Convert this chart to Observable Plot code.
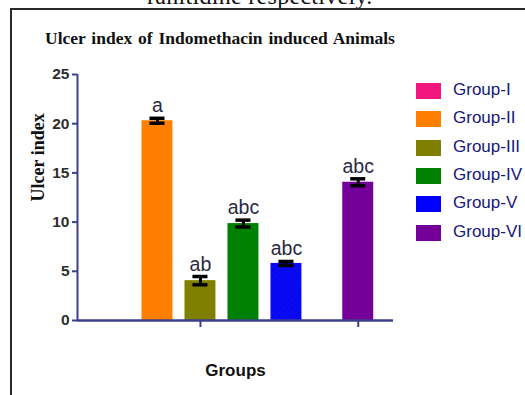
<!DOCTYPE html>
<html>
<head>
<meta charset="utf-8">
<script src="https://cdn.jsdelivr.net/npm/d3@7"></script>
<script src="https://cdn.jsdelivr.net/npm/@observablehq/plot@0.6"></script>
<style>
  html, body { margin: 0; padding: 0; background: #fff; }
  #page { position: relative; width: 525px; height: 395px; overflow: hidden; background: #fff; }
  #prev { position: absolute; left: 147px; top: -16px; font: 24px "Liberation Serif", "Times New Roman", serif; line-height: 24px; color: #111; white-space: nowrap; letter-spacing: 0.3px; }
  #box { position: absolute; left: 10px; top: 8px; right: -4px; bottom: -4px; border-left: 2px solid #2a2a2a; border-top: 2px solid #2a2a2a; }
  #title { position: absolute; left: 45px; top: 28px; font: bold 17.5px "Liberation Serif", "Times New Roman", serif; word-spacing: 1.5px; color: #111; white-space: nowrap; }
  #chart { position: absolute; left: 0; top: 0; }
  #legend { position: absolute; left: 416px; top: 0; }
  .row { position: absolute; left: 0; width: 110px; height: 20px; }
  .sw { position: absolute; left: 0; top: 2px; width: 25px; height: 16px; }
  .lb { position: absolute; left: 37px; top: -1px; font: 17px "Liberation Sans", Arial, sans-serif; color: #16167a; white-space: nowrap; }
</style>
</head>
<body>
<div id="page">
  <div id="prev">ranitidine respectively.</div>
  <div id="box"></div>
  <div id="title">Ulcer  index of Indomethacin induced Animals</div>
  <div id="chart"></div>
  <div id="legend"></div>
</div>
<script>
// Ulcer index per treatment group (mean ± SEM) with significance letters
const groups   = ["Group-I", "Group-II", "Group-III", "Group-IV", "Group-V", "Group-VI"];
const clusters = ["A", "A", "A", "A", "A", "B"];
const ulcerIdx = [0, 20.3, 4.05, 9.85, 5.8, 14.05];
const sem      = [0, 0.25, 0.42, 0.35, 0.2, 0.35];
const letters  = ["", "a", "ab", "abc", "abc", "abc"];
const yTicks   = [0, 5, 10, 15, 20, 25];
const colors   = ["#f2177f", "#ff8000", "#808000", "#008000", "#0000ff", "#74009a"];

// bars sit side by side within a cluster; clusters are separated by an extra gap
const clusterGap = 0.67;
const clusterNames = [...new Set(clusters)];
const rows = groups.map((g, i) => ({
  group: g,
  pos: i + clusterNames.indexOf(clusters[i]) * clusterGap,
  value: ulcerIdx[i],
  err: sem[i],
  letter: letters[i]
}));
const clusterCenters = clusterNames.map(c => d3.mean(rows.filter((r, i) => clusters[i] === c), r => r.pos));
const bars = rows.filter(r => r.value > 0);

const halfBar = 0.36, halfCap = 0.175;
const axisColor = "#3d3f8c";

const chart = Plot.plot({
  width: 525,
  height: 395,
  marginLeft: 77,
  marginRight: 132,
  marginTop: 74,
  marginBottom: 75,
  x: { type: "linear", domain: [-0.86, 6.49] },
  y: { domain: [0, 25] },
  color: { domain: groups, range: colors },
  style: { fontFamily: "Liberation Sans, Arial, sans-serif", background: "transparent" },
  marks: [
    Plot.rectY(bars, { x1: d => d.pos - halfBar, x2: d => d.pos + halfBar, y1: 0, y2: "value", fill: "group" }),
    // error bars
    Plot.ruleX(bars, { x: "pos", y1: d => d.value - d.err, y2: d => d.value + d.err, stroke: "#000", strokeWidth: 3 }),
    Plot.ruleY(bars, { y: d => d.value + d.err, x1: d => d.pos - halfCap, x2: d => d.pos + halfCap, stroke: "#000", strokeWidth: 3.5 }),
    Plot.ruleY(bars, { y: d => d.value - d.err, x1: d => d.pos - halfCap, x2: d => d.pos + halfCap, stroke: "#000", strokeWidth: 3.5 }),
    // significance letters
    Plot.text(bars, { x: "pos", y: d => d.value + d.err, text: "letter", lineAnchor: "bottom", dy: -6, fontSize: 19.5, fill: "#2b2b40" }),
    // axes
    Plot.axisY({ ticks: yTicks, tickSize: 5, tickPadding: 3, stroke: axisColor, strokeWidth: 2, fontSize: 15.5, fontWeight: "bold", fill: "#2e2e2e", label: null }),
    Plot.axisX({ ticks: clusterCenters, tickSize: 7, tickFormat: () => "", stroke: axisColor, strokeWidth: 2, label: null }),
    Plot.ruleY([0], { stroke: axisColor, strokeWidth: 2.5 }),
    Plot.ruleX([-0.86], { y1: 0, y2: 25, stroke: axisColor, strokeWidth: 2 }),
    // axis titles
    Plot.text(["Ulcer index"], { frameAnchor: "left", dx: -39, dy: 4, rotate: -90, fontSize: 18, fontWeight: "bold", fontFamily: "Liberation Serif, Times New Roman, serif", fill: "#111", letterSpacing: 0.5 }),
    Plot.text(["Groups"], { frameAnchor: "bottom", dy: 55, fontSize: 17, fontWeight: "bold", fill: "#111" })
  ]
});
document.getElementById("chart").appendChild(chart);

// textured fill for the Group-V bar
const svg = d3.select(chart);
const defs = svg.insert("defs", ":first-child");
const pat = defs.append("pattern")
  .attr("id", "hatchBlue").attr("patternUnits", "userSpaceOnUse")
  .attr("width", 4).attr("height", 4).attr("patternTransform", "rotate(45)");
pat.append("rect").attr("width", 4).attr("height", 4).attr("fill", "#0a0af8");
pat.append("line").attr("x1", 0).attr("y1", 0).attr("x2", 0).attr("y2", 4)
  .attr("stroke", "#0000b8").attr("stroke-width", 1.2).attr("opacity", 0.6);
svg.selectAll("rect").filter(function () {
  return (this.getAttribute("fill") || "").toLowerCase() === "#0000ff";
}).attr("fill", "url(#hatchBlue)");

// legend
const legend = d3.select("#legend");
groups.forEach((g, i) => {
  const row = legend.append("div").attr("class", "row").style("top", (80.7 + i * 28.4) + "px");
  row.append("div").attr("class", "sw").style("background", colors[i]);
  row.append("div").attr("class", "lb").text(g);
});
</script>
</body>
</html>
